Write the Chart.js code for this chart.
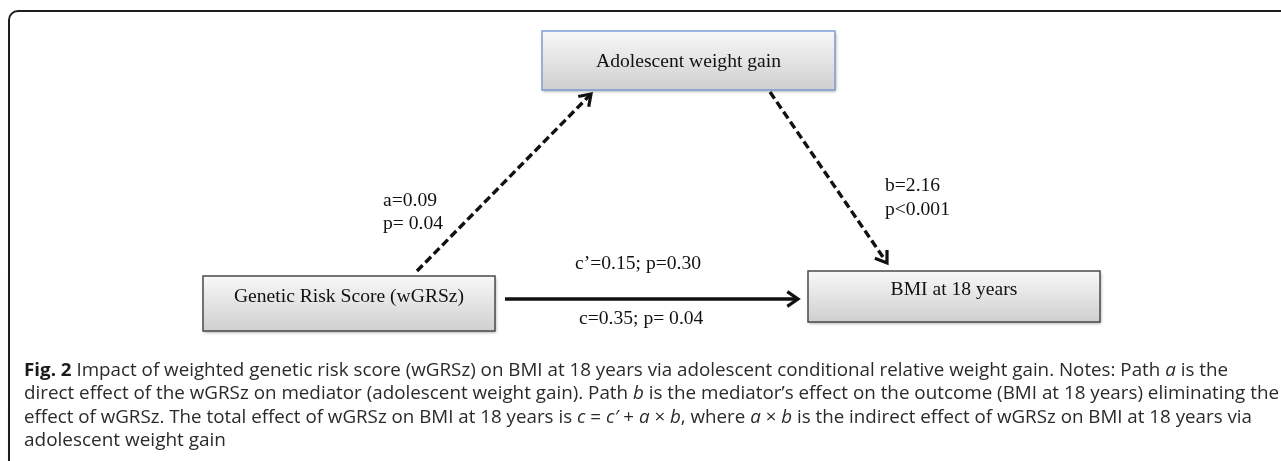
<!DOCTYPE html>
<html>
<head>
<meta charset="utf-8">
<script src="https://cdn.jsdelivr.net/npm/chart.js@4.4.1/dist/chart.umd.min.js"></script>
<style>
  html, body { margin: 0; padding: 0; background: #fff; }
  #wrap { width: 1281px; height: 461px; }
</style>
</head>
<body>
<div id="wrap"><canvas id="diagram" width="1281" height="461"></canvas></div>
<script>
// mediation model values
const nodeNames = ["Genetic Risk Score (wGRSz)", "Adolescent weight gain", "BMI at 18 years"];
const pathNames = ["a", "b", "c\u2019", "c"];
const pathCoefs = ["0.09", "2.16", "0.15", "0.35"];
const pathP = ["p= 0.04", "p<0.001", "p=0.30", "p= 0.04"];

const W = 1281, H = 461;

// layout, in chart units (1 unit = 1 px)
const boxes = [
  { x0: 203, x1: 495, y0: 276, y1: 331, base: 302, border: "#4a4a4a" },
  { x0: 542, x1: 835, y0: 31, y1: 90, base: 67, border: "#7d9cd0" },
  { x0: 808, x1: 1100, y0: 271, y1: 322, base: 295, border: "#4a4a4a" }
];
const arrows = [
  { from: [417, 271], to: [591, 94], dash: [8, 4] },
  { from: [770, 92], to: [887, 263], dash: [8, 4] },
  { from: [505, 299], to: [798, 299], dash: [] }
];

const serif = '"Liberation Serif", "Times New Roman", serif';
const sans = '"Open Sans", "Noto Sans", sans-serif';
const serifSize = 19.6;

const caption = [
  { y: 376, w: 1204, runs: [["b", "Fig. 2"], ["", " Impact of weighted genetic risk score (wGRSz) on BMI at 18 years via adolescent conditional relative weight gain. Notes: Path "], ["i", "a"], ["", " is the"]] },
  { y: 399, w: 1255, runs: [["", "direct effect of the wGRSz on mediator (adolescent weight gain). Path "], ["i", "b"], ["", " is the mediator\u2019s effect on the outcome (BMI at 18 years) eliminating the"]] },
  { y: 423, w: 1228, runs: [["", "effect of wGRSz. The total effect of wGRSz on BMI at 18 years is "], ["i", "c"], ["", " = "], ["i", "c\u2032"], ["", " + "], ["i", "a"], ["", " \u00d7 "], ["i", "b"], ["", ", where "], ["i", "a"], ["", " \u00d7 "], ["i", "b"], ["", " is the indirect effect of wGRSz on BMI at 18 years via"]] },
  { y: 446, w: 202, runs: [["", "adolescent weight gain"]] }
];

function runFont(style) {
  if (style === "b") return "bold 17.5px " + sans;
  if (style === "i") return "italic 17.5px " + sans;
  return "17.5px " + sans;
}

const diagramPlugin = {
  id: "diagram",
  beforeDatasetsDraw(chart) {
    const ctx = chart.ctx;
    const px = v => chart.scales.x.getPixelForValue(v);
    const py = v => chart.scales.y.getPixelForValue(v);
    ctx.save();
    // outer frame
    ctx.strokeStyle = "#1e1e1e";
    ctx.lineWidth = 2;
    ctx.beginPath();
    ctx.roundRect(px(9), py(11), px(1300) - px(9), py(475) - py(11), 9);
    ctx.stroke();

    boxes.forEach((b, i) => {
      const x = px(b.x0), y = py(b.y0), w = px(b.x1) - x, h = py(b.y1) - y;
      const g = ctx.createLinearGradient(0, y, 0, y + h);
      g.addColorStop(0, "#f8f8f8");
      g.addColorStop(1, "#cfcfcf");
      ctx.shadowColor = "rgba(0,0,0,0.35)";
      ctx.shadowBlur = 3;
      ctx.shadowOffsetX = 1;
      ctx.shadowOffsetY = 1.5;
      ctx.fillStyle = g;
      ctx.fillRect(x, y, w, h);
      ctx.shadowColor = "transparent";
      ctx.strokeStyle = b.border;
      ctx.lineWidth = 1.5;
      ctx.strokeRect(x, y, w, h);
      ctx.fillStyle = "#111";
      ctx.font = serifSize + "px " + serif;
      ctx.textAlign = "center";
      ctx.textBaseline = "alphabetic";
      ctx.fillText(nodeNames[i], x + w / 2, py(b.base));
    });
    ctx.restore();
  },
  afterDatasetsDraw(chart) {
    const ctx = chart.ctx;
    const px = v => chart.scales.x.getPixelForValue(v);
    const py = v => chart.scales.y.getPixelForValue(v);
    ctx.save();
    // arrow heads
    chart.data.datasets.forEach(ds => {
      const p = ds.data;
      const x1 = px(p[0].x), y1 = py(p[0].y), x2 = px(p[1].x), y2 = py(p[1].y);
      const ang = Math.atan2(y2 - y1, x2 - x1);
      const len = 13, spread = 0.6;
      ctx.strokeStyle = "#111";
      ctx.lineWidth = 3.2;
      ctx.lineJoin = "miter";
      ctx.beginPath();
      ctx.moveTo(x2 - len * Math.cos(ang - spread), y2 - len * Math.sin(ang - spread));
      ctx.lineTo(x2, y2);
      ctx.lineTo(x2 - len * Math.cos(ang + spread), y2 - len * Math.sin(ang + spread));
      ctx.stroke();
    });

    // path labels
    ctx.fillStyle = "#111";
    ctx.font = serifSize + "px " + serif;
    ctx.textAlign = "left";
    ctx.textBaseline = "alphabetic";
    ctx.fillText(pathNames[0] + "=" + pathCoefs[0], px(383), py(206));
    ctx.fillText(pathP[0], px(383), py(229));
    ctx.fillText(pathNames[1] + "=" + pathCoefs[1], px(885), py(191));
    ctx.fillText(pathP[1], px(885), py(215));
    ctx.fillText(pathNames[2] + "=" + pathCoefs[2] + "; " + pathP[2], px(575), py(269));
    ctx.fillText(pathNames[3] + "=" + pathCoefs[3] + "; " + pathP[3], px(579), py(324));

    // caption
    caption.forEach(line => {
      let total = 0;
      line.runs.forEach(r => { ctx.font = runFont(r[0]); total += ctx.measureText(r[1]).width; });
      const s = line.w / total;
      ctx.save();
      ctx.translate(px(24), py(line.y));
      ctx.scale(s, 1);
      let cx = 0;
      line.runs.forEach(r => {
        ctx.font = runFont(r[0]);
        ctx.fillStyle = r[0] === "b" ? "#1a1a1a" : "#2a2a2a";
        ctx.fillText(r[1], cx, 0);
        cx += ctx.measureText(r[1]).width;
      });
      ctx.restore();
    });
    ctx.restore();
  }
};

new Chart(document.getElementById("diagram"), {
  type: "scatter",
  data: {
    datasets: arrows.map(a => ({
      data: [{ x: a.from[0], y: a.from[1] }, { x: a.to[0], y: a.to[1] }],
      showLine: true,
      borderColor: "#111",
      borderWidth: 3.4,
      borderDash: a.dash,
      pointRadius: 0,
      fill: false,
      clip: false
    }))
  },
  options: {
    responsive: false,
    animation: false,
    events: [],
    layout: { padding: 0 },
    plugins: { legend: { display: false }, tooltip: { enabled: false } },
    scales: {
      x: { type: "linear", min: 0, max: W, display: false },
      y: { type: "linear", min: 0, max: H, reverse: true, display: false }
    }
  },
  plugins: [diagramPlugin]
});
</script>
</body>
</html>
